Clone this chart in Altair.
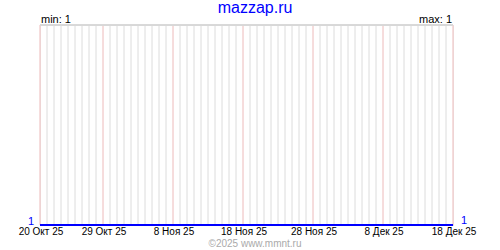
import altair as alt
import pandas as pd

# Data
dates = pd.date_range("2025-10-20", "2025-12-18", freq="D").strftime("%Y-%m-%d").tolist()
values = [1, 1, 1, 1, 1, 1, 1, 1, 1, 1,
          1, 1, 1, 1, 1, 1, 1, 1, 1, 1,
          1, 1, 1, 1, 1, 1, 1, 1, 1, 1,
          1, 1, 1, 1, 1, 1, 1, 1, 1, 1,
          1, 1, 1, 1, 1, 1, 1, 1, 1, 1,
          1, 1, 1, 1, 1, 1, 1, 1, 1, 1]
label_dates = ["2025-10-20", "2025-10-29", "2025-11-08", "2025-11-18",
               "2025-11-28", "2025-12-08", "2025-12-18"]
label_texts = ["20 Окт 25", "29 Окт 25", "8 Ноя 25", "18 Ноя 25",
               "28 Ноя 25", "8 Дек 25", "18 Дек 25"]
y_min, y_max = 1, 2
title_text = "mazzap.ru"
min_text = "min: 1"
max_text = "max: 1"
copyright_text = "©2025 www.mmnt.ru"

FONT = "Liberation Sans"

series = pd.DataFrame({"date": dates, "value": values})
labels = pd.DataFrame({"date": label_dates, "label": label_texts})
ends = series.iloc[[0, -1]].reset_index(drop=True)

xs = alt.Scale(type="utc", nice=False, padding=0)
ys = alt.Scale(domain=[y_min, y_max], nice=False, zero=False)
X = alt.X("date:T", scale=xs, axis=None)

grid = alt.Chart(series).mark_rule(color="#dcdcdc", strokeWidth=1).encode(
    x=X, y=alt.value(0), y2=alt.value(200)
)
red = alt.Chart(labels).mark_rule(color="#ffcccc", strokeWidth=1).encode(
    x=X, y=alt.value(0), y2=alt.value(200)
)
top = alt.Chart(series).mark_rule(color="#d8d8d8", strokeWidth=1).encode(
    x=alt.value(0), x2=alt.value(413), y=alt.value(0)
)
line = alt.Chart(series).mark_line(color="#0000ff", strokeWidth=2).encode(
    x=X, y=alt.Y("value:Q", scale=ys, axis=None)
)
xlabels = alt.Chart(labels).mark_text(
    font=FONT, fontSize=10, color="black", align="center", baseline="alphabetic", dx=1
).encode(x=X, y=alt.value(210), text="label:N")

left_one = alt.Chart(ends.iloc[[0]]).mark_text(
    font=FONT, fontSize=11, color="#0000ff", align="center", baseline="alphabetic", dx=-9
).encode(x=X, y=alt.Y("value:Q", scale=ys, axis=None), text="value:Q")
right_one = alt.Chart(ends.iloc[[1]]).mark_text(
    font=FONT, fontSize=11, color="#0000ff", align="center", baseline="alphabetic", dx=11, dy=-1
).encode(x=X, y=alt.Y("value:Q", scale=ys, axis=None), text="value:Q")

title = alt.Chart(pd.DataFrame({"t": [title_text]})).mark_text(
    font=FONT, fontSize=16, color="#0000ff", align="center", baseline="alphabetic"
).encode(x=alt.value(215), y=alt.value(-12), text="t:N")
minlab = alt.Chart(pd.DataFrame({"t": [min_text]})).mark_text(
    font=FONT, fontSize=11, color="black", align="left", baseline="alphabetic"
).encode(x=alt.value(1), y=alt.value(-2), text="t:N")
maxlab = alt.Chart(pd.DataFrame({"t": [max_text]})).mark_text(
    font=FONT, fontSize=11, color="black", align="right", baseline="alphabetic"
).encode(x=alt.value(412), y=alt.value(-2), text="t:N")
copy = alt.Chart(pd.DataFrame({"t": [copyright_text]})).mark_text(
    font=FONT, fontSize=10, color="#aaaaaa", align="center", baseline="alphabetic"
).encode(x=alt.value(215), y=alt.value(222), text="t:N")

chart = alt.layer(
    grid, red, top, line, xlabels, left_one, right_one, title, minlab, maxlab, copy
).properties(
    width=413, height=200,
    autosize=alt.AutoSizeParams(type="none"),
    padding={"left": 40, "top": 25, "right": 47, "bottom": 25},
).configure_view(stroke=None).configure(background="white")

chart.save("out.html", embed_options={"renderer": "svg", "actions": False})
